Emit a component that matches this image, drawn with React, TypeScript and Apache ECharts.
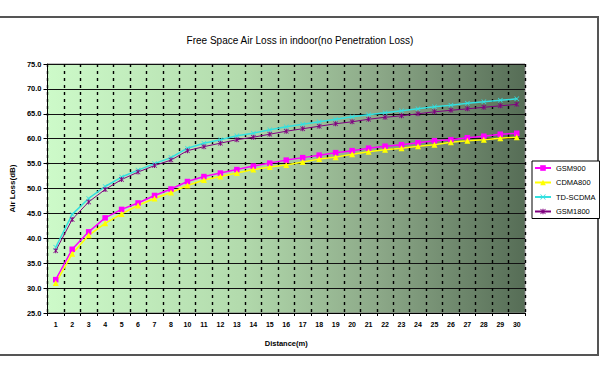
import React, { useEffect, useRef } from "react";
import * as echarts from "echarts";

const categories = ["1","2","3","4","5","6","7","8","10","11","12","13","14","15","16","17","18","19","20","21","22","23","24","25","26","27","28","29","30"];
const seriesNames = ["GSM900", "CDMA800", "TD-SCDMA", "GSM1800"];
const gsm900 = [31.7,37.8,41.3,44.1,45.8,47.1,48.6,49.9,51.4,52.4,53.1,53.8,54.5,55.1,55.7,56.2,56.7,57.2,57.6,58.1,58.5,58.8,59.2,59.6,59.8,60.2,60.5,60.9,61.1];
const cdma800 = [31.0,36.9,40.6,43.0,44.9,46.6,48.0,49.2,50.6,51.7,52.4,53.1,53.8,54.3,54.7,55.3,55.9,56.3,56.9,57.4,57.8,58.1,58.5,58.8,59.3,59.6,59.8,60.1,60.3];
const tdscdma = [38.2,44.8,48.0,50.4,52.3,53.7,55.0,56.2,58.1,59.1,59.8,60.6,61.1,61.8,62.4,62.9,63.4,63.9,64.4,64.8,65.2,65.6,66.0,66.4,66.7,67.1,67.4,67.7,68.0];
const gsm1800 = [37.5,43.8,47.3,49.8,51.8,53.3,54.6,55.7,57.6,58.4,59.1,59.8,60.3,60.9,61.5,62.0,62.5,63.0,63.4,63.9,64.3,64.6,65.0,65.4,65.7,66.0,66.3,66.6,66.9];
const yTicks = { min: 25, max: 75, interval: 5 };

const FONT = "Liberation Sans, Arial, sans-serif";
const XSYM = "path://M0,1L1,0L5,4L9,0L10,1L6,5L10,9L9,10L5,6L1,10L0,9L4,5Z";
const STAR = "path://M0,1L1,0L4,3L4,0L6,0L6,3L9,0L10,1L6,5L10,9L9,10L6,7L6,10L4,10L4,7L1,10L0,9L4,5Z";

export default function App() {
  const ref = useRef<HTMLDivElement>(null);
  useEffect(() => {
    if (!ref.current) return;
    const chart = echarts.init(ref.current, undefined, { renderer: "svg" });
    const bg = new echarts.graphic.LinearGradient(0, 0, 1, 0, [
      { offset: 0, color: "#cdfac9" },
      { offset: 0.4, color: "#b3dbad" },
      { offset: 0.7, color: "#8ba787" },
      { offset: 1, color: "#566d56" },
    ]);
    const mk = (name: string, data: number[], color: string, symbol: string, size: number, width: number) => ({
      name,
      type: "line",
      data,
      symbol,
      symbolSize: size,
      showSymbol: true,
      lineStyle: { color, width },
      itemStyle: { color, borderColor: color, borderWidth: 0 },
      emphasis: { disabled: true },
    });
    chart.setOption({
      animation: false,
      title: {
        text: "Free Space Air Loss in indoor(no Penetration Loss)",
        left: "center",
        top: 30,
        textStyle: { fontFamily: FONT, fontSize: 10, fontWeight: "normal", color: "#000" },
      },
      graphic: [
        {
          type: "rect",
          shape: { x: -2, y: 17, width: 600, height: 338 },
          style: { fill: "none", stroke: "#555", lineWidth: 2 },
          silent: true,
        },
      ],
      legend: {
        orient: "vertical",
        left: 532,
        top: 161,
        width: 60,
        padding: [3, 4, 3, 2],
        itemGap: 6.5,
        itemWidth: 16,
        itemHeight: 7,
        borderColor: "#000",
        borderWidth: 1,
        backgroundColor: "#fff",
        data: seriesNames,
        textStyle: { fontFamily: FONT, fontSize: 7.5, color: "#000" },
      },
      grid: {
        left: 41,
        right: 75,
        top: 64,
        bottom: 56,
        show: true,
        backgroundColor: bg,
        borderColor: "#808080",
        borderWidth: 1,
      },
      xAxis: {
        type: "category",
        data: categories,
        boundaryGap: true,
        name: "Distance(m)",
        nameLocation: "middle",
        nameGap: 26,
        nameTextStyle: { fontFamily: FONT, fontSize: 7.5, fontWeight: "bold", color: "#000" },
        axisLine: { show: true, lineStyle: { color: "#000", width: 1 } },
        axisTick: { show: true, length: 3, interval: 0, lineStyle: { color: "#000" } },
        axisLabel: { interval: 0, margin: 8, fontFamily: FONT, fontSize: 7, fontWeight: "bold", color: "#000" },
        splitLine: { show: true, interval: 0, lineStyle: { color: "#000", width: 1.4, type: [3, 4] } },
      },
      yAxis: {
        type: "value",
        min: yTicks.min,
        max: yTicks.max,
        interval: yTicks.interval,
        name: "Air Loss(dB)",
        nameLocation: "middle",
        nameGap: 29,
        nameTextStyle: { fontFamily: FONT, fontSize: 8, fontWeight: "bold", color: "#000" },
        axisLine: { show: true, lineStyle: { color: "#000", width: 1 } },
        axisTick: { show: true, length: 4, lineStyle: { color: "#000" } },
        axisLabel: {
          margin: 6,
          fontFamily: FONT,
          fontSize: 7.5,
          fontWeight: "bold",
          color: "#000",
          formatter: (v: number) => v.toFixed(1),
        },
        splitLine: { show: true, lineStyle: { color: "#111", width: 1.2 } },
      },
      series: [
        mk(seriesNames[0], gsm900, "#ff00ff", "rect", 5.5, 1.5),
        mk(seriesNames[1], cdma800, "#ffff00", "triangle", 6, 1.5),
        mk(seriesNames[2], tdscdma, "#33e0e0", XSYM, 5, 1.5),
        mk(seriesNames[3], gsm1800, "#800080", STAR, 5, 1),
      ],
    });
    return () => chart.dispose();
  }, []);
  return <div ref={ref} style={{ width: 600, height: 369, position: "absolute", left: 0, top: 0 }} />;
}
